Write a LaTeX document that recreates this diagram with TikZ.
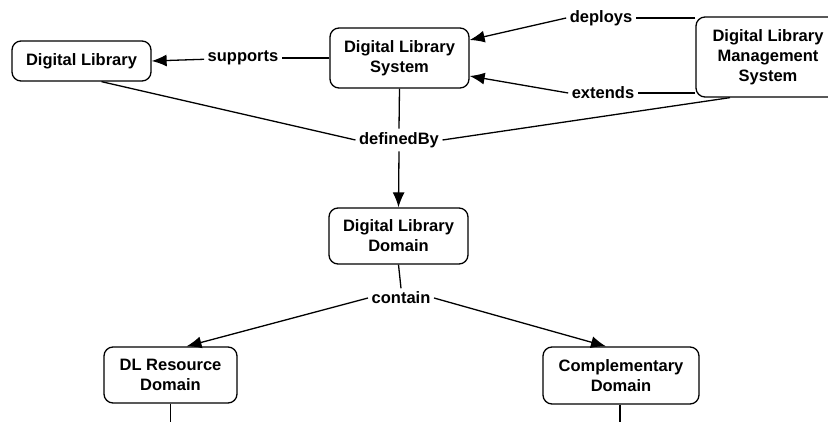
\documentclass[tikz,border=0pt]{standalone}
\usepackage{fontspec}
\setmainfont{Liberation Sans}
\usetikzlibrary{positioning,calc,arrows.meta}

\begin{document}
\begin{tikzpicture}[x=1pt,y=-1pt,line width=1.3pt,
	every node/.style={font=\fontsize{16.5}{20}\selectfont\bfseries,align=center,inner sep=0pt},
	concept/.style={draw,rounded corners=9pt,minimum width=139pt,minimum height=56pt},
	rel/.style={inner sep=3pt},
	>={Latex[length=15pt,width=12pt]}]

\useasboundingbox (0,0) rectangle (828,422);

\node[concept,minimum height=40pt](dl) at (81.5,61) {Digital Library};
\node[concept,minimum height=60pt](dls) at (399.5,58) {Digital Library\\System};
\node[concept,minimum width=144pt,minimum height=80pt](dlms) at (768,57) {Digital Library\\Management\\System};
\node[concept](dld) at (398.5,236) {Digital Library\\Domain};
\node[concept,minimum width=133pt](dlr) at (170.5,375) {DL Resource\\Domain};
\node[concept,minimum width=156pt,minimum height=57pt](cd) at (621,375.5) {Complementary\\Domain};

\node[rel](supports) at (243,58) {supports};
\node[rel](deploys) at (601,18) {deploys};
\node[rel](extends) at (603,93) {extends};
\node[rel](definedBy) at (399,140) {definedBy};
\node[rel](contain) at (401,298) {contain};

\coordinate (dlrEnd) at (dlr.south |- 0,422);
\coordinate (cdEnd) at ([xshift=-1pt]cd.south |- 0,422);

\draw (dls.west) -- (supports);
\draw[->] (supports) -- (dl.east);
\draw (dlms.west |- deploys) -- (deploys);
\draw[->] (deploys.west) -- ([yshift=18pt]dls.east);
\draw (dlms.west |- extends) -- (extends);
\draw[->] (extends.west) -- ([yshift=-18pt]dls.east);

\draw ([xshift=20pt]dl.south) -- (definedBy.west);
\draw (dls.south) -- (definedBy.north);
\draw ([xshift=-38pt]dlms.south) -- (definedBy.east);
\draw[->] (definedBy.south) -- (dld.north);

\draw (dld.south) -- (contain.north);
\draw[->] (contain.west) -- ([xshift=16pt]dlr.north);
\draw[->] (contain.east) -- ([xshift=-15pt]cd.north);

\draw (dlr.south) -- (dlrEnd);
\draw ([xshift=-1pt]cd.south) -- (cdEnd);

\end{tikzpicture}
\end{document}
